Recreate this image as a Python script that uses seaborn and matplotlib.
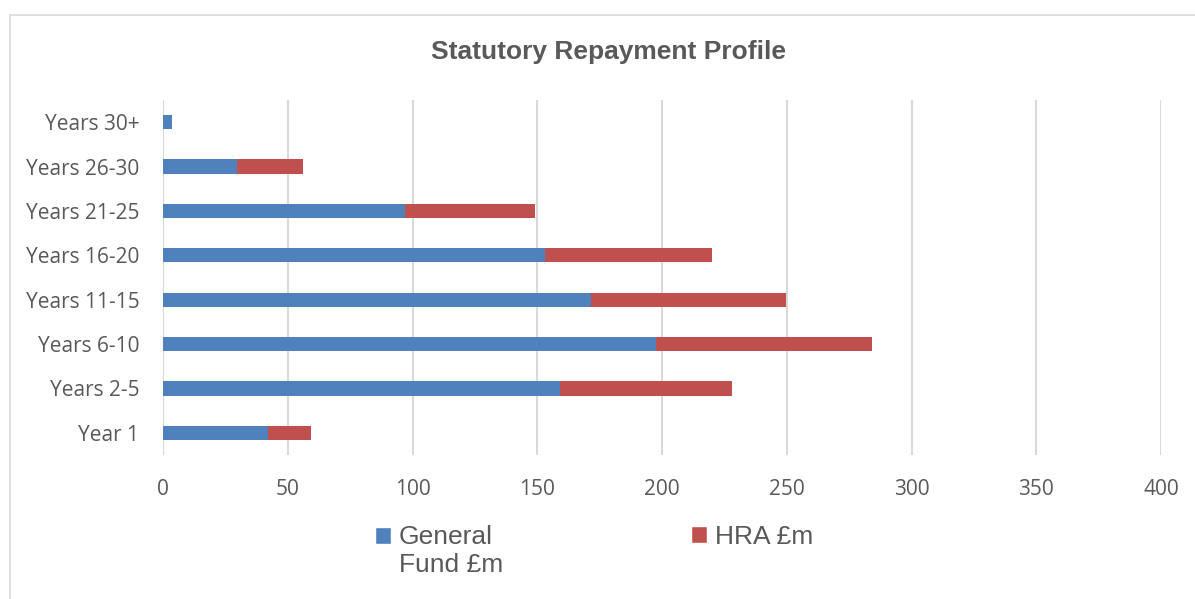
import matplotlib
matplotlib.use("Agg")
import matplotlib.pyplot as plt
import numpy as np
import pandas as pd
import seaborn as sns
from matplotlib.legend_handler import HandlerPatch
from matplotlib.patches import Patch, Rectangle

# data (£m)
categories = ["Years 30+", "Years 26-30", "Years 21-25", "Years 16-20",
              "Years 11-15", "Years 6-10", "Years 2-5", "Year 1"]
general_fund = [3.5, 29.5, 96.9, 153.3, 171.6, 197.7, 159.2, 42.1]
hra = [0.0, 26.7, 52.0, 66.6, 78.2, 86.4, 69.0, 17.1]
x_ticks = [0, 50, 100, 150, 200, 250, 300, 350, 400]

BLUE = "#4F81BD"
RED = "#C0504D"
GREY_TXT = "#595959"
GRID = "#D9D9D9"

df = pd.DataFrame({"cat": categories, "gf": general_fund, "hra": hra})
df["total"] = df["gf"] + df["hra"]

sns.set_style("white")
plt.rcParams["font.family"] = ["Open Sans", "DejaVu Sans"]

fig = plt.figure(figsize=(11.95, 5.99), dpi=100)
ax = fig.add_axes([163 / 1195, 1 - 455 / 599, 998 / 1195, 355 / 599])

# outer chart frame
fig.patches.append(Rectangle((10 / 1195, -0.05), 1.2, (599 - 15) / 599 + 0.05,
                             transform=fig.transFigure, fill=False,
                             edgecolor=GRID, linewidth=1.2))

# stacked: draw totals (red) then general fund (blue) on top
sns.barplot(data=df, x="total", y="cat", color=RED, width=0.32,
            saturation=1, ax=ax, order=categories)
sns.barplot(data=df, x="gf", y="cat", color=BLUE, width=0.32,
            saturation=1, ax=ax, order=categories)
for p in ax.patches:
    p.set_edgecolor("none")

ax.set_xlim(0, 400)
ax.set_ylim(len(categories) - 0.5, -0.5)
ax.set_xticks(x_ticks)
ax.set_xlabel("")
ax.set_ylabel("")
ax.grid(axis="x", color=GRID, linewidth=1.5)
ax.set_axisbelow(True)
for s in ax.spines.values():
    s.set_visible(False)
ax.tick_params(axis="both", length=0, labelsize=15, labelcolor=GREY_TXT)
ax.tick_params(axis="x", pad=17)
ax.tick_params(axis="y", pad=17)

fig.text(0.509, 0.913, "Statutory Repayment Profile", ha="center", va="center",
         fontsize=19, fontweight="bold", color=GREY_TXT,
         family=["Liberation Sans", "DejaVu Sans"])


def square(shift):
    def make(legend, orig_handle, xdescent, ydescent, width, height, fontsize):
        return Rectangle((-xdescent, -ydescent + shift), width, height)
    return HandlerPatch(patch_func=make)


leg_kw = dict(frameon=False, handlelength=0.6, handleheight=0.6,
              handletextpad=0.3, loc="upper left", labelcolor=GREY_TXT,
              prop={"family": ["Liberation Sans", "DejaVu Sans"], "size": 19},
              borderpad=0, borderaxespad=0)
gf_patch = Patch(facecolor=BLUE)
hra_patch = Patch(facecolor=RED)
fig.legend(handles=[gf_patch], labels=["General\nFund £m"],
           bbox_to_anchor=(375 / 1195, 1 - 525 / 599),
           handler_map={gf_patch: square(11.5)}, **leg_kw)
fig.legend(handles=[hra_patch], labels=["HRA £m"],
           bbox_to_anchor=(691 / 1195, 1 - 525 / 599),
           handler_map={hra_patch: square(0)}, **leg_kw)

fig.savefig("out.png", dpi=100, facecolor="white")
